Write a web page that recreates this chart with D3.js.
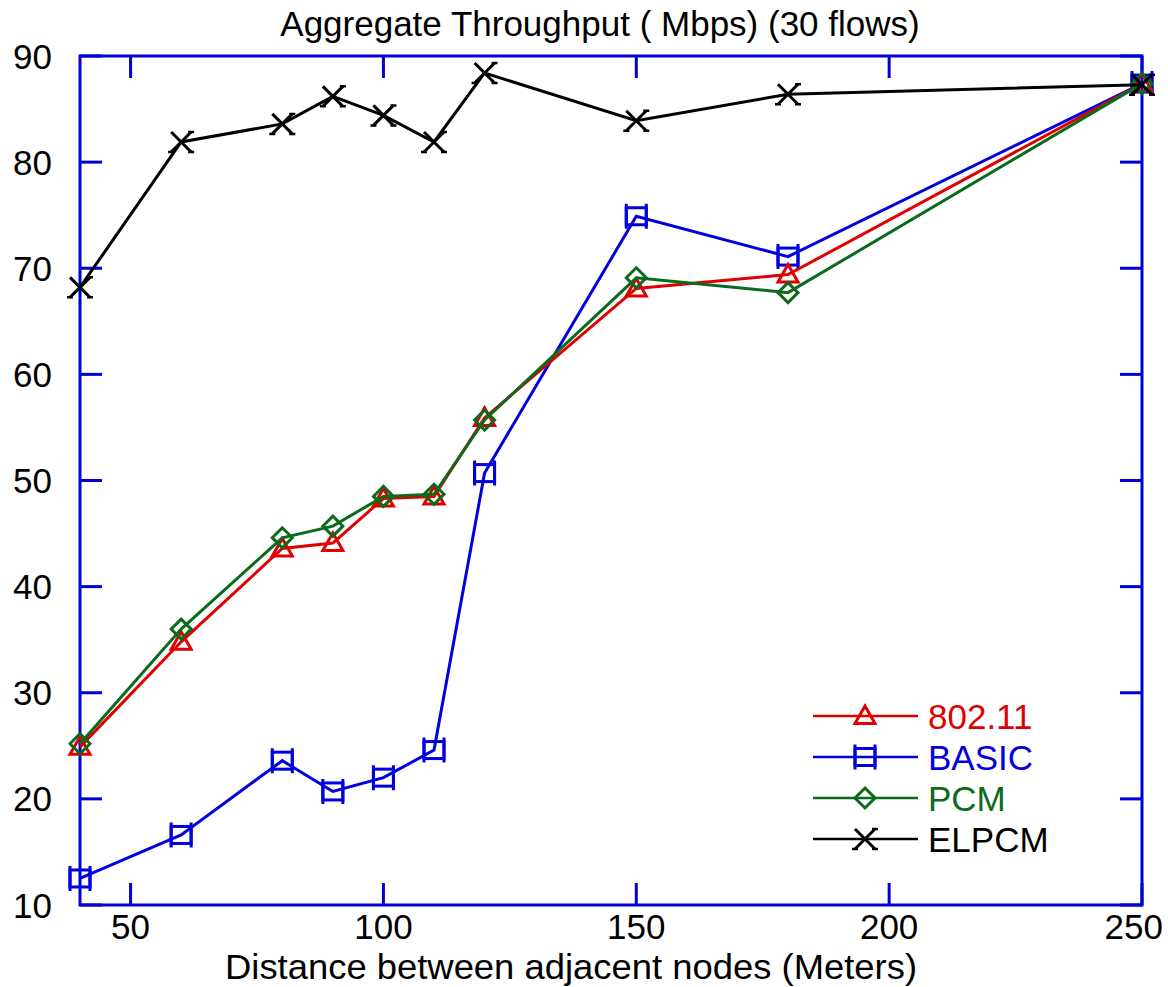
<!DOCTYPE html>
<html>
<head>
<meta charset="utf-8">
<script src="https://cdn.jsdelivr.net/npm/d3@7"></script>
<style>
  body { margin: 0; background: #fff; }
  text { font-family: "Liberation Sans", Arial, sans-serif; }
</style>
</head>
<body>
<div id="viz"></div>
<script>
const margin = {top: 56, right: 26, bottom: 82, left: 80};
const width = 1168;
const height = 987;
const axisColor = '#0000d8';

// distances (meters)
const distances = [40, 60, 80, 90, 100, 110, 120, 150, 180, 250];
// throughput per scheme (Mbps)
const ieee80211 = [24.9, 34.8, 43.6, 44.1, 48.3, 48.5, 55.9, 68.1, 69.4, 87.4];
const basic = [12.5, 16.6, 23.6, 20.7, 22.0, 24.6, 50.7, 74.9, 71.1, 87.4];
const pcm = [25.2, 36.0, 44.6, 45.7, 48.5, 48.7, 55.7, 69.1, 67.7, 87.4];
const elpcm = [68.2, 81.9, 83.6, 86.2, 84.4, 81.9, 88.4, 83.9, 86.4, 87.3];

const xTicks = [50, 100, 150, 200, 250];
const yTicks = [10, 20, 30, 40, 50, 60, 70, 80, 90];

const series = [
    {name: 'BASIC', values: basic, color: '#0000e0', marker: 'square'},
    {name: '802.11', values: ieee80211, color: '#e00000', marker: 'triangle'},
    {name: 'PCM', values: pcm, color: '#0b6a1c', marker: 'diamond'},
    {name: 'ELPCM', values: elpcm, color: '#000000', marker: 'cross'}
];
const legendOrder = ['802.11', 'BASIC', 'PCM', 'ELPCM'];

const xScale = d3.scaleLinear()
    .domain([40, 250])
    .range([margin.left, width - margin.right]);
const yScale = d3.scaleLinear()
    .domain([10, 90])
    .range([height - margin.bottom, margin.top]);

const svg = d3.select('#viz')
    .append('svg')
        .attr('width', width)
        .attr('height', height);

// draws a marker at (0,0) into group g
function drawMarker(g, type, color) {
    const s = 10;
    if (type === 'triangle') {
        g.append('path')
            .attr('d', `M0,${-s} L${s},${s * 0.75} L${-s},${s * 0.75} Z`)
            .attr('fill', 'none').attr('stroke', color).attr('stroke-width', 3);
    } else if (type === 'diamond') {
        g.append('path')
            .attr('d', `M0,${-s} L${s},0 L0,${s} L${-s},0 Z`)
            .attr('fill', 'none').attr('stroke', color).attr('stroke-width', 3);
    } else if (type === 'square') {
        g.append('rect')
            .attr('x', -s).attr('y', -s * 0.85)
            .attr('width', 2 * s).attr('height', 1.7 * s)
            .attr('fill', 'none').attr('stroke', color).attr('stroke-width', 3);
        // extended side bars
        g.append('path')
            .attr('d', `M${-s},${-s * 1.25} V${s * 1.25} M${s},${-s * 1.25} V${s * 1.25}`)
            .attr('stroke', color).attr('stroke-width', 3);
    } else {
        g.append('path')
            .attr('d', `M${-s},${-s} L${s},${s} M${-s},${s} L${s},${-s}`)
            .attr('stroke', color).attr('stroke-width', 3);
        // small serifs at arm ends
        g.append('path')
            .attr('d', `M${s - 3},${-s} H${s + 3} M${s - 3},${s} H${s + 3} M${-s - 3},${s} H${-s + 3}`)
            .attr('stroke', color).attr('stroke-width', 2.5);
    }
}

// Frame
const x0 = xScale(40), x1 = xScale(250), y0 = yScale(10), y1 = yScale(90);
const frame = svg.append('g').attr('class', 'frame');
frame.append('rect')
    .attr('x', x0).attr('y', y1)
    .attr('width', x1 - x0).attr('height', y0 - y1)
    .attr('fill', 'none').attr('stroke', axisColor).attr('stroke-width', 3);

const tickLen = 22;
// inside ticks on all four sides
frame.selectAll('.xt-bottom')
    .data(xTicks)
    .join('line')
        .attr('x1', d => xScale(d)).attr('x2', d => xScale(d))
        .attr('y1', y0).attr('y2', y0 - tickLen)
        .attr('stroke', axisColor).attr('stroke-width', 3);
frame.selectAll('.xt-top')
    .data(xTicks)
    .join('line')
        .attr('x1', d => xScale(d)).attr('x2', d => xScale(d))
        .attr('y1', y1).attr('y2', y1 + tickLen)
        .attr('stroke', axisColor).attr('stroke-width', 3);
frame.selectAll('.yt-left')
    .data(yTicks)
    .join('line')
        .attr('x1', x0).attr('x2', x0 + tickLen)
        .attr('y1', d => yScale(d)).attr('y2', d => yScale(d))
        .attr('stroke', axisColor).attr('stroke-width', 3);
frame.selectAll('.yt-right')
    .data(yTicks)
    .join('line')
        .attr('x1', x1).attr('x2', x1 - tickLen)
        .attr('y1', d => yScale(d)).attr('y2', d => yScale(d))
        .attr('stroke', axisColor).attr('stroke-width', 3);

// Tick labels
svg.append('g')
    .selectAll('text')
    .data(yTicks)
    .join('text')
        .attr('x', x0 - 28)
        .attr('y', d => yScale(d) + 12.5)
        .attr('text-anchor', 'end')
        .style('font-size', '35px')
        .text(d => d);
svg.append('g')
    .selectAll('text')
    .data(xTicks)
    .join('text')
        // last label is pulled in so it stays inside the picture
        .attr('x', d => d === 250 ? width - 5 : xScale(d))
        .attr('y', y0 + 34)
        .attr('text-anchor', d => d === 250 ? 'end' : 'middle')
        .style('font-size', '35px')
        .text(d => d);

// Titles
svg.append('text')
    .attr('x', 600)
    .attr('y', 36)
    .attr('text-anchor', 'middle')
    .style('font-size', '35px')
    .text('Aggregate Throughput ( Mbps) (30 flows)');
svg.append('text')
    .attr('x', 225)
    .attr('y', 979)
    .attr('textLength', 692)
    .attr('lengthAdjust', 'spacingAndGlyphs')
    .style('font-size', '35px')
    .text('Distance between adjacent nodes (Meters)');

// Lines and markers
const line = d3.line()
    .x((d, i) => xScale(distances[i]))
    .y(d => yScale(d));

series.forEach(s => {
    const g = svg.append('g').attr('class', 'series');
    g.append('path')
        .attr('d', line(s.values))
        .attr('fill', 'none')
        .attr('stroke', s.color)
        .attr('stroke-width', 3);
    s.values.forEach((v, i) => {
        const m = g.append('g')
            .attr('transform', `translate(${xScale(distances[i])},${yScale(v)})`);
        drawMarker(m, s.marker, s.color);
    });
});

// Legend
const legend = svg.append('g').attr('class', 'legend');
legendOrder.forEach((name, i) => {
    const s = series.find(d => d.name === name);
    const ly = 716 + i * 41;
    legend.append('line')
        .attr('x1', 813).attr('x2', 918)
        .attr('y1', ly).attr('y2', ly)
        .attr('stroke', s.color).attr('stroke-width', 2.5);
    const m = legend.append('g').attr('transform', `translate(865,${ly})`);
    drawMarker(m, s.marker, s.color);
    legend.append('text')
        .attr('x', 928)
        .attr('y', ly + 12.5)
        .style('font-size', '35px')
        .attr('fill', s.color)
        .text(name);
});
</script>
</body>
</html>
